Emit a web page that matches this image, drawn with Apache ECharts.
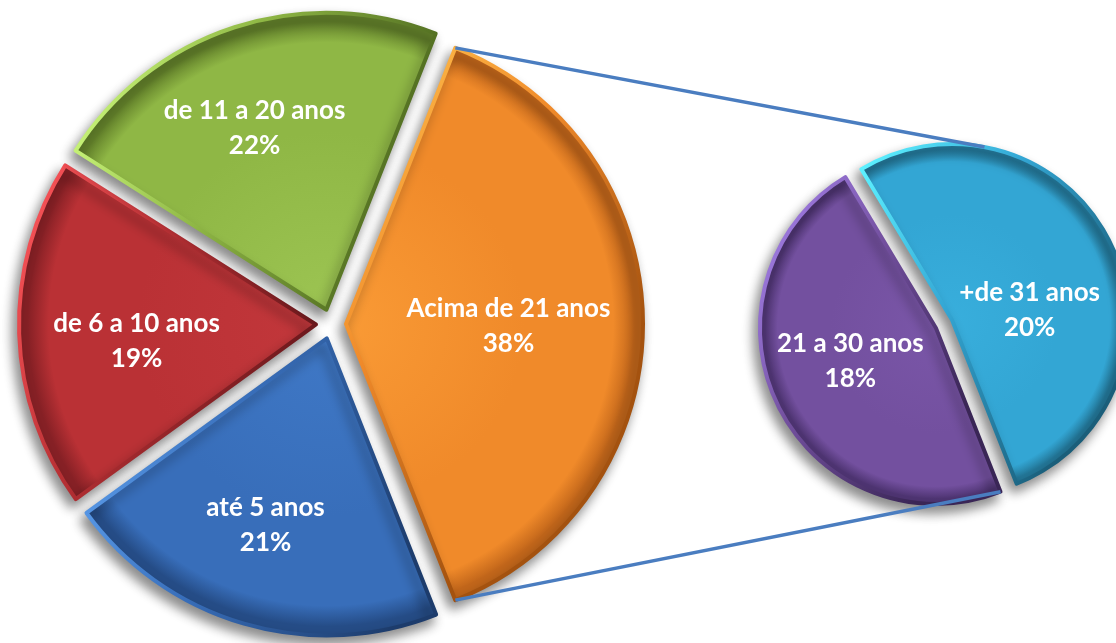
<!DOCTYPE html>
<html>
<head>
<meta charset="utf-8">
<script src="https://cdn.jsdelivr.net/npm/echarts@6/dist/echarts.min.js"></script>
<style>
html,body{margin:0;padding:0;background:#ffffff;}
#chart{width:1116px;height:643px;}
</style>
</head>
<body>
<div id="chart"></div>
<script>
// ---- data ----
const mainCategories = ['Acima de 21 anos', 'até 5 anos', 'de 6 a 10 anos', 'de 11 a 20 anos'];
const mainValues = [38, 21, 19, 22];
const subCategories = ['+de 31 anos', '21 a 30 anos'];
const subValues = [20, 18];

// ---- geometry / styles ----
const MAIN = { cx: 331, cy: 324, r: 297, off: 15 };
const SUB = { cx: 944, cy: 324, r: 176, off: 9, startAngle: 121 };
const mainPalette = [
  { base: '#F08A2A', light: '#F99A35', dark: '#C2661A', edgeL: '#FFC24E', edgeD: '#A4520F' },
  { base: '#386EBA', light: '#3F78C6', dark: '#254C86', edgeL: '#62A6F5', edgeD: '#1D3C6C' },
  { base: '#BA3135', light: '#C2373B', dark: '#862025', edgeL: '#FF565B', edgeD: '#6A181C' },
  { base: '#8FB745', light: '#9CC452', dark: '#62802A', edgeL: '#D2FF82', edgeD: '#46601A' }
];
const subPalette = [
  { base: '#33A6D4', light: '#38AEDC', dark: '#23789A', edgeL: '#5CF0FF', edgeD: '#1A5E7A' },
  { base: '#73509F', light: '#7A56A8', dark: '#4E3472', edgeL: '#A884F0', edgeD: '#3A2656' }
];
const mainLabelShift = [[11, 2], [-19, 41], [-28, 12], [-25, -38]];
const subLabelShift = [[-4, 30], [-4, -7]];
const labelFont = { color: '#ffffff', fontFamily: 'Lato', fontWeight: 'bold', fontSize: 26, lineHeight: 35 };

function sliceStyle(p, G) {
  return {
    color: {
      type: 'radial', x: G.cx, y: G.cy, r: G.r, global: true,
      colorStops: [
        { offset: 0, color: p.light }, { offset: 0.6, color: p.base },
        { offset: 0.9, color: p.base }, { offset: 0.97, color: p.dark }, { offset: 1, color: p.dark }
      ]
    },
    borderColor: {
      type: 'linear', x: 0, y: 0.1, x2: 1, y2: 0.5,
      colorStops: [{ offset: 0, color: p.edgeL }, { offset: 0.45, color: p.base }, { offset: 1, color: p.edgeD }]
    },
    borderWidth: 4,
    shadowBlur: 12, shadowColor: 'rgba(0,0,0,0.45)', shadowOffsetX: -4, shadowOffsetY: 7
  };
}

function buildData(cats, vals, pal, G) {
  return cats.map((c, i) => {
    const st = sliceStyle(pal[i], G);
    return { name: c, value: vals[i], selected: true, itemStyle: st, select: { itemStyle: st } };
  });
}

const mainTotal = mainValues.reduce((a, b) => a + b, 0);
const subTotal = subValues.reduce((a, b) => a + b, 0);
const mainStart = mainValues[0] / mainTotal * 180;

// ---- connector geometry (from slice angles) ----
const rad = d => d * Math.PI / 180;
function pt(c, r, a) { return [c[0] + r * Math.cos(rad(a)), c[1] - r * Math.sin(rad(a))]; }
const orangeMid = mainStart - mainValues[0] / mainTotal * 180;
const orangeC = pt([MAIN.cx, MAIN.cy], MAIN.off, orangeMid);
const orangeTop = pt(orangeC, MAIN.r, mainStart);
const orangeBot = pt(orangeC, MAIN.r, mainStart - mainValues[0] / mainTotal * 360);
const cyanSpan = subValues[0] / subTotal * 360;
const cyanC = pt([SUB.cx, SUB.cy], SUB.off, SUB.startAngle - cyanSpan / 2);
const purpleC = pt([SUB.cx, SUB.cy], SUB.off, SUB.startAngle - cyanSpan - (360 - cyanSpan) / 2);
const purpleBot = pt(purpleC, SUB.r, SUB.startAngle - cyanSpan);
function tangentUpper(P, C, r) {
  const dx = P[0] - C[0], dy = P[1] - C[1];
  const d = Math.hypot(dx, dy);
  const base = Math.atan2(dy, dx);
  const al = Math.acos(r / d);
  const cands = [base + al, base - al].map(a => [C[0] + r * Math.cos(a), C[1] + r * Math.sin(a)]);
  return cands[0][1] < cands[1][1] ? cands[0] : cands[1];
}
const cyanTan = tangentUpper(orangeTop, cyanC, SUB.r);

const chart = echarts.init(document.getElementById('chart'), null, { renderer: 'canvas' });
chart.setOption({
  animation: false,
  backgroundColor: '#ffffff',
  series: [
    {
      type: 'pie',
      center: [MAIN.cx, MAIN.cy],
      radius: [0, MAIN.r],
      startAngle: mainStart,
      clockwise: true,
      selectedMode: 'multiple',
      selectedOffset: MAIN.off,
      avoidLabelOverlap: false,
      emphasis: { disabled: true },
      label: Object.assign({ show: true, position: 'inside', formatter: '{b}\n{c}%' }, labelFont),
      labelLine: { show: false },
      labelLayout: p => ({ dx: mainLabelShift[p.dataIndex][0], dy: mainLabelShift[p.dataIndex][1] }),
      data: buildData(mainCategories, mainValues, mainPalette, MAIN)
    },
    {
      type: 'pie',
      center: [SUB.cx, SUB.cy],
      radius: [0, SUB.r],
      startAngle: SUB.startAngle,
      clockwise: true,
      selectedMode: 'multiple',
      selectedOffset: SUB.off,
      avoidLabelOverlap: false,
      emphasis: { disabled: true },
      label: Object.assign({ show: true, position: 'inside', formatter: '{b}\n{c}%' }, labelFont),
      labelLine: { show: false },
      labelLayout: p => ({ dx: subLabelShift[p.dataIndex][0], dy: subLabelShift[p.dataIndex][1] }),
      data: buildData(subCategories, subValues, subPalette, SUB)
    }
  ],
  graphic: [
    { type: 'line', z: 100, shape: { x1: orangeTop[0], y1: orangeTop[1], x2: cyanTan[0], y2: cyanTan[1] }, style: { stroke: '#4A7DC0', lineWidth: 3.5 } },
    { type: 'line', z: 100, shape: { x1: orangeBot[0], y1: orangeBot[1], x2: purpleBot[0], y2: purpleBot[1] }, style: { stroke: '#4A7DC0', lineWidth: 3.5 } }
  ]
});
</script>
</body>
</html>
